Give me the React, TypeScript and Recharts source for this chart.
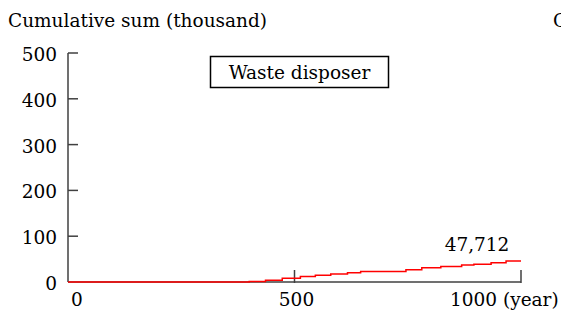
import React from "react";
import { LineChart, Line, XAxis, YAxis, ReferenceDot } from "recharts";

const years = [0, 400, 436, 473, 513, 546, 580, 617, 646, 746, 781, 823, 869, 896, 934, 967, 1000];
const values = [0, 1, 4, 8, 12, 15, 17.5, 20, 23, 27, 31, 34, 37, 39, 42, 46, 46];
const xTicks = [0, 500, 1000];
const yTicks = [0, 100, 200, 300, 400, 500];
const endLabel = "47,712";
const seriesName = "Waste disposer";
const yTitle = "Cumulative sum (thousand)";

const data = years.map((y, i) => ({ year: y, value: values[i] }));

const FONT = "'DejaVu Serif', serif";
const FS = 18.5;
const AXIS = "#404040";
const txt: React.CSSProperties = { fontFamily: FONT, fontSize: FS };

const YTick = (props: any) => {
  const { x, y, payload } = props;
  return (
    <g>
      {payload.value !== 0 && (
        <line x1={x} x2={x + 10} y1={y} y2={y} stroke={AXIS} strokeWidth={1.5} />
      )}
      <text x={x - 11} y={y} dy={8} textAnchor="end" style={txt} fill="#000">
        {payload.value}
      </text>
    </g>
  );
};

const XTick = (props: any) => {
  const { x, y, payload } = props;
  const v = payload.value;
  return (
    <g>
      {v !== 0 && (
        <line x1={x} x2={x} y1={y + 1} y2={y - 12} stroke={AXIS} strokeWidth={1.5} />
      )}
      {v === 0 && (
        <text x={x + 9} y={y + 24} textAnchor="middle" style={txt} fill="#000">0</text>
      )}
      {v === 500 && (
        <text x={x + 2} y={y + 24} textAnchor="middle" style={txt} fill="#000">500</text>
      )}
      {v === 1000 && (
        <text x={x - 71} y={y + 24} textAnchor="start" style={txt} fill="#000">1000 (year)</text>
      )}
    </g>
  );
};

const EndLabel = (props: any) => {
  const { cx, cy } = props;
  return (
    <text x={cx - 44} y={cy - 10} textAnchor="middle" style={txt} fill="#000">
      {endLabel}
    </text>
  );
};

export default function App() {
  const last = data[data.length - 1];
  return (
    <div style={{ position: "absolute", left: 0, top: 0, width: 561, height: 318, background: "#fff" }}>
      <LineChart
        width={561}
        height={318}
        data={data}
        margin={{ top: 53, right: 40, bottom: 6, left: 8 }}
      >
        <XAxis
          dataKey="year"
          type="number"
          domain={[0, 1000]}
          ticks={xTicks}
          height={30}
          tickSize={0}
          tickMargin={0}
          tickLine={false}
          axisLine={{ stroke: AXIS, strokeWidth: 1.5 }}
          tick={<XTick />}
          interval={0}
        />
        <YAxis
          type="number"
          domain={[0, 500]}
          ticks={yTicks}
          width={60}
          tickSize={0}
          tickMargin={0}
          tickLine={false}
          axisLine={{ stroke: AXIS, strokeWidth: 1.5 }}
          tick={<YTick />}
          interval={0}
        />
        <Line
          type="stepAfter"
          dataKey="value"
          stroke="#ff0000"
          strokeWidth={1.5}
          dot={false}
          isAnimationActive={false}
          {...({ zIndex: 2000 } as any)}
        />
        <ReferenceDot x={last.year} y={last.value} r={0} shape={<EndLabel />} />
      </LineChart>
      <svg width={561} height={318} style={{ position: "absolute", left: 0, top: 0, pointerEvents: "none" }}>
        <text x={8} y={27} style={txt} fill="#000">{yTitle}</text>
        <text x={553} y={27} style={txt} fill="#000">{yTitle}</text>
        <rect x={210.5} y={56.5} width={178} height={31} fill="#fff" stroke="#000" strokeWidth={1.5} />
        <text x={299.5} y={79} textAnchor="middle" style={txt} fill="#000">{seriesName}</text>
      </svg>
    </div>
  );
}
